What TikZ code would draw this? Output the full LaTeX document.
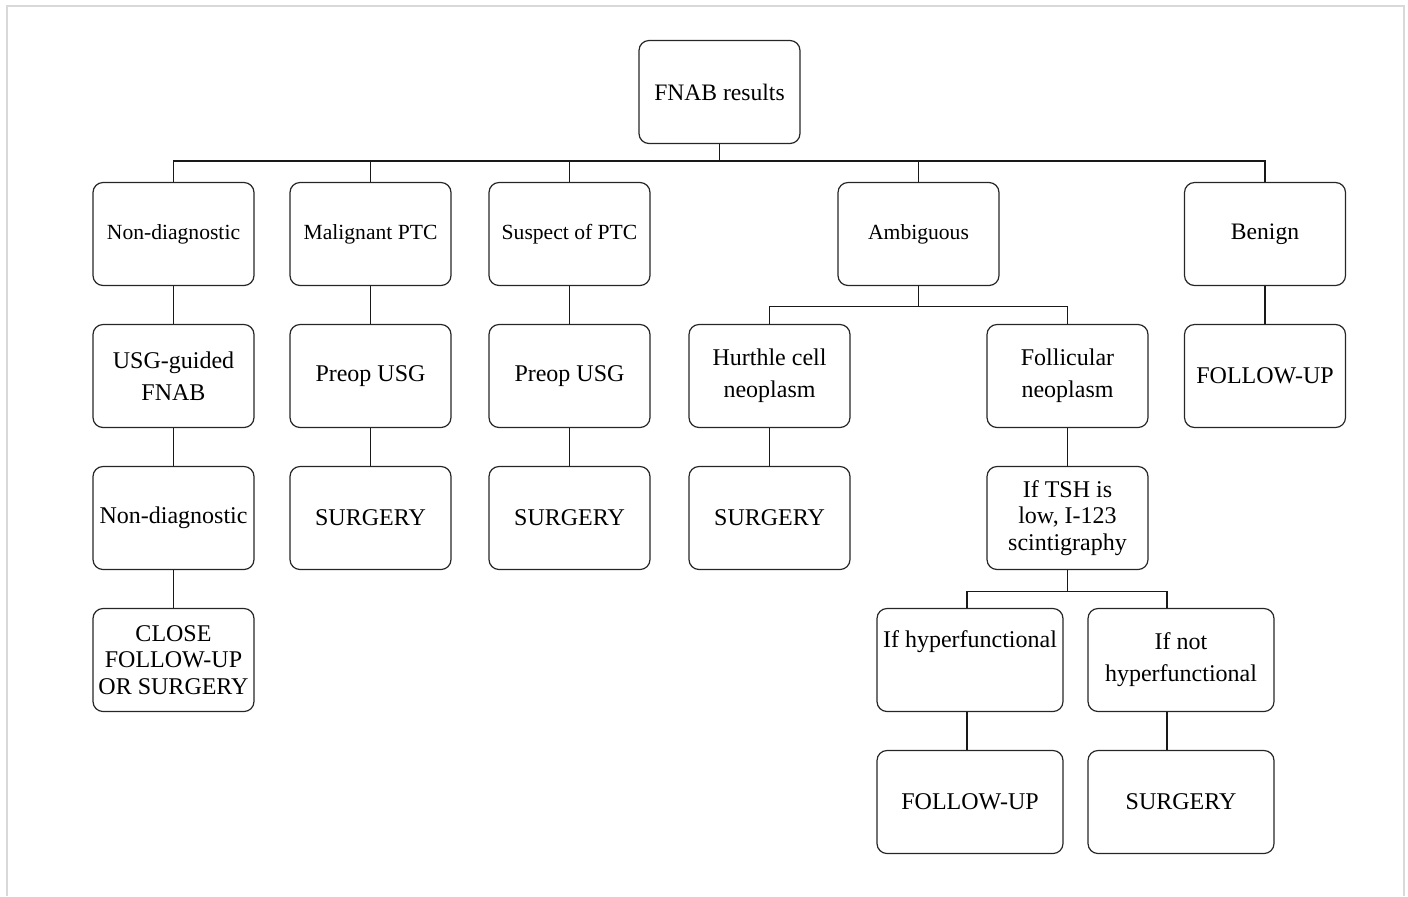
\documentclass[tikz,border=0pt]{standalone}
\usepackage{fontspec}
\setmainfont{Liberation Serif}
\usetikzlibrary{positioning}
\tikzset{
    % node styles
    box/.style = {draw=black!85, thick, line width=0.6pt, rounded corners=5pt, minimum width=80.5pt, minimum height=51.5pt, align=center, inner sep=1pt, font=\fontsize{12}{16}\selectfont},
    wide box/.style = {box, minimum width=93pt},
    small text/.style = {font=\fontsize{10.8}{16}\selectfont},
    tight text/.style = {font=\fontsize{12}{13.3}\selectfont},
    % connector style
    link/.style = {line width=0.65pt, black!90},
    % page frame
    frame/.style = {line width=1pt, black!15}
}

\begin{document}
\begin{tikzpicture}[x=0.5pt, y=0.5pt, node distance=71pt]
        \useasboundingbox (0,0) rectangle (1408,-896);
        \draw[frame] (7.3,-896) -- (7.3,-6) -- (1403.5,-6) -- (1403.5,-896);

        % top level
        \node[box, font=\fontsize{11.8}{16}\selectfont] (res) at (719.5,-92) {FNAB results};

        \node[box, small text] (nd1) at (173.5,-234) {Non-diagnostic};
        \node[box, small text] (mal) at (370.5,-234) {Malignant PTC};
        \node[box, small text] (sus) at (569.5,-234) {Suspect of PTC};
        \node[box, small text] (amb) at (918.5,-234) {Ambiguous};
        \node[box, font=\fontsize{11.8}{16}\selectfont] (ben) at (1265,-234) {Benign};

        % non-diagnostic branch
        \node[box] (usg) [below of=nd1] {USG-guided\\FNAB};
        \node[box] (nd2) [below of=usg] {Non-diagnostic};
        \node[box, tight text] (close) [below of=nd2] {CLOSE\\FOLLOW-UP\\OR SURGERY};

        % malignant and suspect branches
        \node[box] (pre1) [below of=mal] {Preop USG};
        \node[box] (sur1) [below of=pre1] {SURGERY};
        \node[box] (pre2) [below of=sus] {Preop USG};
        \node[box] (sur2) [below of=pre2] {SURGERY};

        % ambiguous branch
        \node[box] (hur) [below of=amb, xshift=-74.5pt] {Hurthle cell\\neoplasm};
        \node[box] (sur3) [below of=hur] {SURGERY};
        \node[box] (fol) [below of=amb, xshift=74.5pt] {Follicular\\neoplasm};
        \node[box, tight text] (tsh) [below of=fol] {If TSH is\\low, I-123\\scintigraphy};
        \node[wide box] (hyp) [below of=tsh, xshift=-48.75pt] {If hyperfunctional\\\strut};
        \node[wide box] (nhyp) [below of=tsh, xshift=56.75pt] {If not\\hyperfunctional};
        \node[wide box] (fu2) [below of=hyp] {FOLLOW-UP};
        \node[wide box] (sur4) [below of=nhyp] {SURGERY};

        % benign branch
        \node[box] (fu1) [below of=ben] {FOLLOW-UP};

        % main bus
        \draw[link] (res.south) -- ++(0,-17) coordinate (bus);
        \draw[link] (nd1.north) |- (bus) -| (ben.north);
        \foreach \n in {mal, sus, amb}
            \draw[link] (\n.north) -- (\n.north |- bus);

        % straight links
        \foreach \a/\b in {nd1/usg, usg/nd2, nd2/close, mal/pre1, pre1/sur1, sus/pre2, pre2/sur2, hur/sur3, fol/tsh, ben/fu1}
            \draw[link] (\a.south) -- (\b.north);

        % ambiguous bus
        \draw[link] (amb.south) -- ++(0,-20.5) coordinate (ambbus);
        \draw[link] (hur.north) |- (ambbus) -| (fol.north);

        % scintigraphy bus
        \draw[link] (tsh.south) -- ++(0,-21.5) coordinate (tshbus);
        \draw[link] ([xshift=-1.5pt]hyp.north) |- (tshbus) -| ([xshift=-7pt]nhyp.north);
        \draw[link] ([xshift=-1.5pt]hyp.south) -- ([xshift=-1.5pt]fu2.north);
        \draw[link] ([xshift=-7pt]nhyp.south) -- ([xshift=-7pt]sur4.north);

    \end{tikzpicture}
\end{document}
